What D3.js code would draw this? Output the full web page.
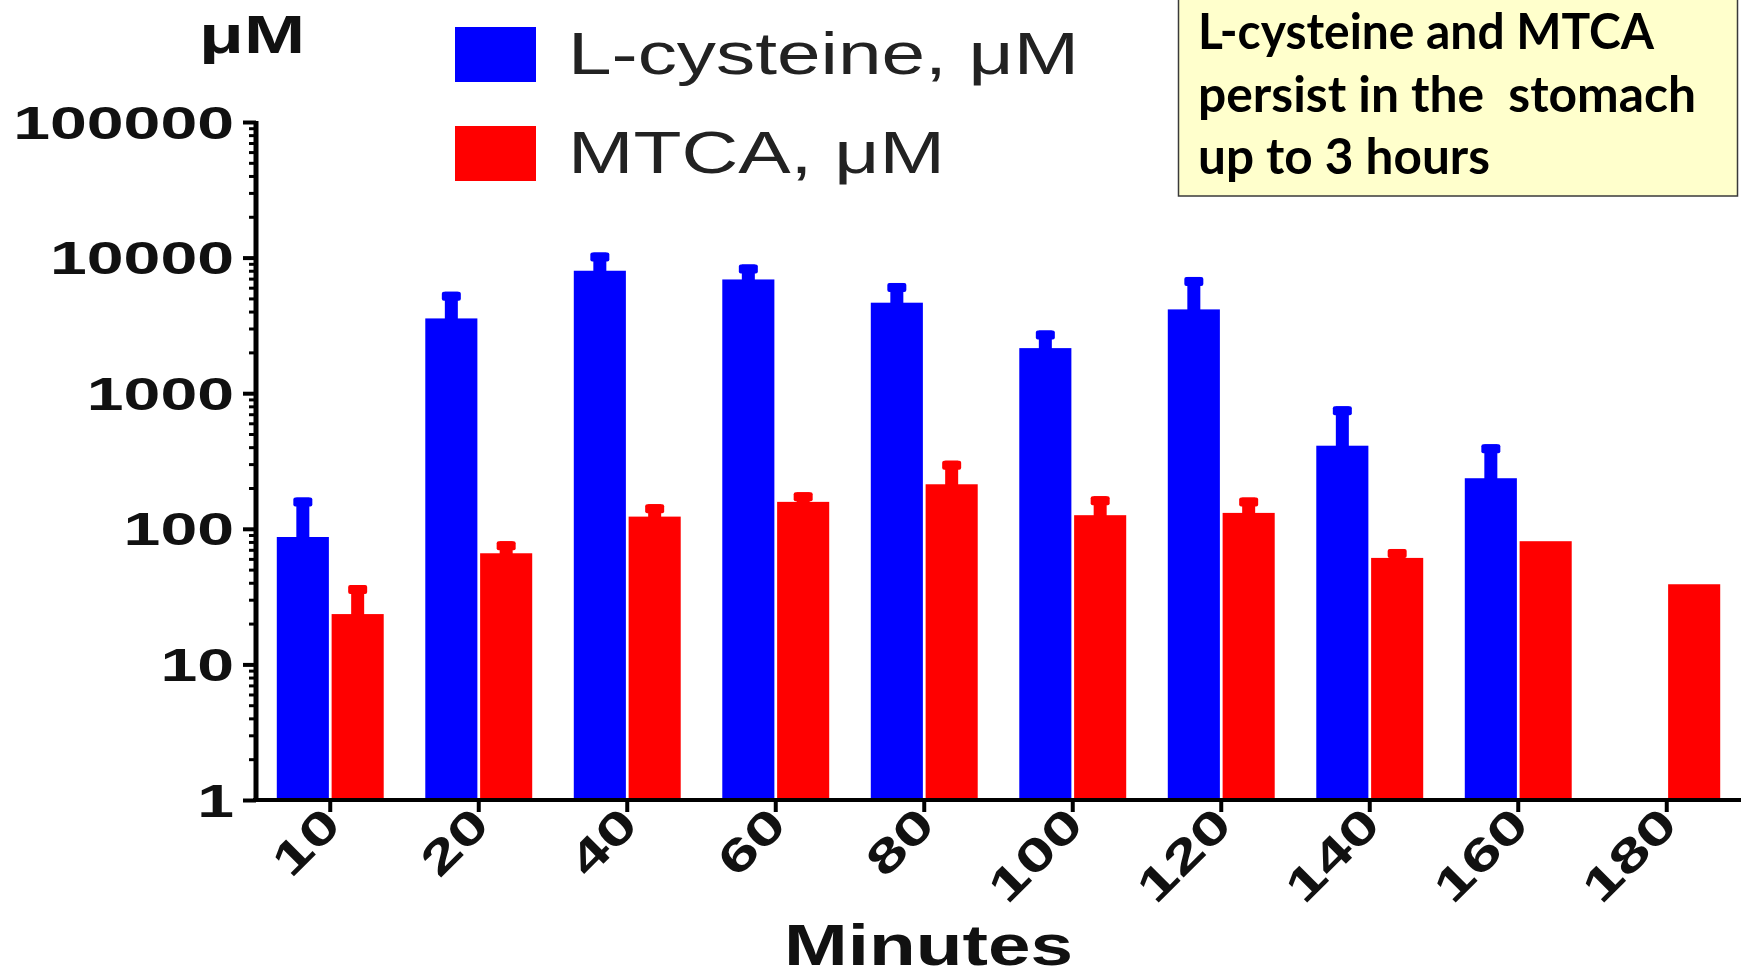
<!DOCTYPE html>
<html>
<head>
<meta charset="utf-8">
<script src="https://cdn.jsdelivr.net/npm/d3@7"></script>
<style>
  html, body { margin: 0; padding: 0; background: #fff; }
  svg { display: block; }
</style>
</head>
<body>
<svg id="chart" width="1744" height="971"></svg>
<script>
// ---- data ----
const categories = ["10", "20", "40", "60", "80", "100", "120", "140", "160", "180"];
const seriesNames = ["L-cysteine, μM", "MTCA, μM"];
const cysteine = [87, 3560, 8000, 6900, 4650, 2150, 4150, 410, 236, null];
const cysteineErrTop = [170, 5600, 10900, 8900, 6500, 2900, 7200, 800, 420, null];
const mtca = [23.5, 66, 123, 158, 213, 126, 131, 61, 81, 39];
const mtcaErrTop = [38.5, 81, 152, 186, 318, 174, 170, 71, null, null];
const yTickValues = [1, 10, 100, 1000, 10000, 100000];
const yTitle = "μM";
const xTitle = "Minutes";
const noteLines = ["L-cysteine and MTCA", "persist in the  stomach", "up to 3 hours"];

const colors = ["#0000ff", "#ff0000"];

const svg = d3.select("#chart");
const plotLeft = 256, plotRight = 1741, plotTop = 122, plotBottom = 800;

const x0 = d3.scaleBand().domain(categories).range([plotLeft, plotRight]).paddingInner(0.28).paddingOuter(0.14);
const x1 = d3.scaleBand().domain([0, 1]).range([0, x0.bandwidth()]).paddingInner(0.05);
const y = d3.scaleLog().domain([1, 100000]).range([plotBottom, plotTop]);

const rows = categories.map((c, i) => ({
  cat: c,
  vals: [
    { s: 0, v: cysteine[i], e: cysteineErrTop[i] },
    { s: 1, v: mtca[i], e: mtcaErrTop[i] }
  ]
}));

const groups = svg.append("g").selectAll("g").data(rows).join("g")
  .attr("transform", d => `translate(${x0(d.cat)},0)`);

const items = groups.selectAll("g.item").data(d => d.vals.filter(v => v.v != null)).join("g").attr("class", "item");

// error bars (stem + cap)
const stemW = 13, capW = 19, capH = 9;
items.filter(d => d.e != null).append("rect")
  .attr("x", d => x1(d.s) + x1.bandwidth() / 2 - stemW / 2)
  .attr("y", d => y(d.e))
  .attr("width", stemW)
  .attr("height", d => y(d.v) - y(d.e) + 2)
  .attr("fill", d => colors[d.s]);
items.filter(d => d.e != null).append("rect")
  .attr("x", d => x1(d.s) + x1.bandwidth() / 2 - capW / 2)
  .attr("y", d => y(d.e))
  .attr("width", capW)
  .attr("height", capH)
  .attr("rx", 2)
  .attr("fill", d => colors[d.s]);

// bars
items.append("rect")
  .attr("x", d => x1(d.s))
  .attr("y", d => y(d.v))
  .attr("width", x1.bandwidth())
  .attr("height", d => y(1) - y(d.v))
  .attr("fill", d => colors[d.s]);

// ---- y axis ----
const minorTicks = [];
for (let k = 0; k < 5; k++) for (let m = 2; m <= 9; m++) minorTicks.push(m * Math.pow(10, k));

const yMinor = svg.append("g").attr("transform", `translate(${plotLeft},0)`)
  .call(d3.axisLeft(y).tickValues(minorTicks).tickSize(7).tickSizeOuter(0).tickFormat(""));
yMinor.select(".domain").remove();
yMinor.selectAll(".tick line").attr("stroke", "#000").attr("stroke-width", 3);

const yAxis = svg.append("g").attr("transform", `translate(${plotLeft},0)`)
  .call(d3.axisLeft(y).tickValues(yTickValues).tickSize(13).tickSizeOuter(0).tickPadding(9).tickFormat(d3.format("d")));
yAxis.select(".domain").attr("stroke", "#000").attr("stroke-width", 5).attr("d", `M0,${plotTop - 1}V${plotBottom + 2}`);
yAxis.selectAll(".tick line").attr("stroke", "#000").attr("stroke-width", 4);
yAxis.selectAll(".tick text")
  .attr("font-family", "Liberation Sans, Arial, sans-serif")
  .attr("font-weight", "bold")
  .attr("font-size", 46)
  .attr("fill", "#111")
  .attr("dy", "0.35em")
  .attr("textLength", d => String(d).length * 36.8)
  .attr("lengthAdjust", "spacingAndGlyphs");

// ---- x axis ----
const xAxis = svg.append("g").attr("transform", `translate(0,${plotBottom})`)
  .call(d3.axisBottom(x0).tickSize(12).tickSizeOuter(0));
xAxis.select(".domain").attr("stroke", "#000").attr("stroke-width", 4).attr("d", `M${plotLeft - 3},0H${plotRight}`);
xAxis.selectAll(".tick line").attr("stroke", "#000").attr("stroke-width", 4);
xAxis.selectAll(".tick text")
  .attr("font-family", "Liberation Sans, Arial, sans-serif")
  .attr("font-weight", "bold")
  .attr("font-size", 46)
  .attr("fill", "#111")
  .attr("text-anchor", "end")
  .attr("dy", null)
  .attr("y", 0)
  .attr("transform", "translate(13,27) rotate(-45)")
  .attr("textLength", d => d.length * 37)
  .attr("lengthAdjust", "spacingAndGlyphs");

// axis titles
svg.append("text")
  .attr("x", 199).attr("y", 53)
  .attr("font-family", "Liberation Sans, Arial, sans-serif")
  .attr("font-weight", "bold").attr("font-size", 54).attr("fill", "#111")
  .attr("textLength", 106).attr("lengthAdjust", "spacingAndGlyphs")
  .text(yTitle);
svg.append("text")
  .attr("x", 784).attr("y", 965)
  .attr("font-family", "Liberation Sans, Arial, sans-serif")
  .attr("font-weight", "bold").attr("font-size", 57).attr("fill", "#111")
  .attr("textLength", 289).attr("lengthAdjust", "spacingAndGlyphs")
  .text(xTitle);

// ---- legend ----
const legendY = [27, 126];
const legendLen = [511, 377];
const legend = svg.append("g").selectAll("g").data(seriesNames).join("g");
legend.append("rect")
  .attr("x", 455).attr("y", (d, i) => legendY[i])
  .attr("width", 81).attr("height", 55)
  .attr("fill", (d, i) => colors[i]);
legend.append("text")
  .attr("x", 568).attr("y", (d, i) => legendY[i] + 47)
  .attr("font-family", "Liberation Sans, Arial, sans-serif")
  .attr("font-size", 59).attr("fill", "#222")
  .attr("textLength", (d, i) => legendLen[i]).attr("lengthAdjust", "spacingAndGlyphs")
  .text(d => d);

// ---- note box ----
const noteLen = [456, 498, 292];
svg.append("rect")
  .attr("x", 1178.5).attr("y", -2).attr("width", 559).attr("height", 198)
  .attr("fill", "#ffffcc").attr("stroke", "#3a3a3a").attr("stroke-width", 1.5);
svg.append("g").selectAll("text").data(noteLines).join("text")
  .attr("x", 1198).attr("y", (d, i) => 49 + i * 62.5)
  .attr("font-family", "Lato, 'Open Sans', sans-serif")
  .attr("font-weight", "bold").attr("font-size", 50).attr("fill", "#000")
  .attr("textLength", (d, i) => noteLen[i]).attr("lengthAdjust", "spacingAndGlyphs")
  .style("white-space", "pre")
  .text(d => d);
</script>
</body>
</html>
